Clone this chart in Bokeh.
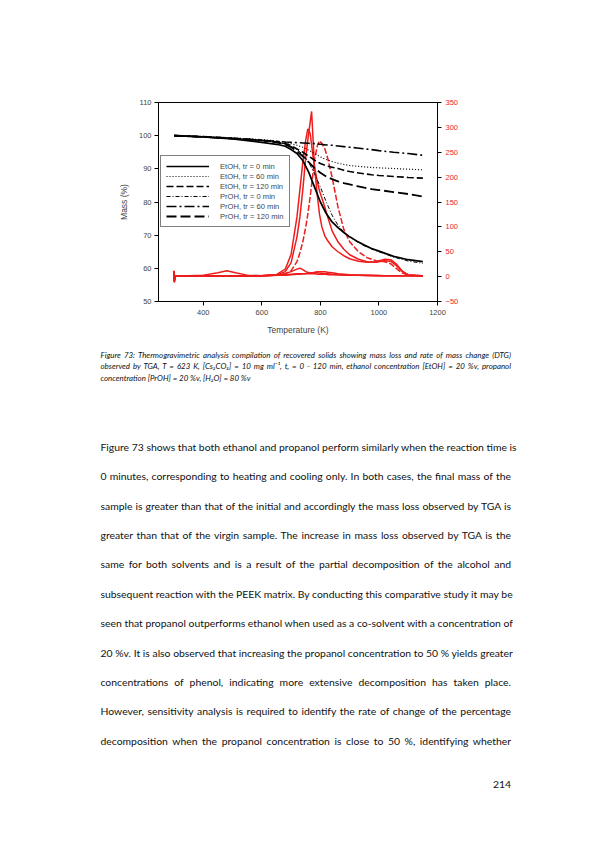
from math import pi
import html
from bokeh.plotting import figure
from bokeh.models import (Range1d, LinearAxis, Legend, LegendItem, Label,
                          FixedTicker, Div)
from bokeh.layouts import column
from bokeh.embed import file_html
from bokeh.resources import INLINE

# ---------------- data ----------------
T_MASS = [300, 400, 500, 600, 650, 680, 700, 720, 740, 760, 780, 800, 820, 840,
          860, 880, 900, 925, 950, 975, 1000, 1050, 1100, 1150]
mass_etoh_0 = [100, 99.6, 99.0, 98.0, 97.4, 96.8, 95.8, 94.6, 92.5, 89.0, 84.5, 80.0,
               76.5, 74.0, 72.3, 70.8, 69.5, 68.2, 67.0, 66.0, 65.2, 63.6, 62.6, 62.0]
mass_etoh_60 = [100, 99.7, 99.3, 98.8, 98.4, 98.0, 97.6, 97.1, 96.5, 95.6, 94.6, 93.6,
                92.8, 92.2, 91.7, 91.3, 91.0, 90.8, 90.6, 90.4, 90.3, 90.1, 89.9, 89.7]
mass_etoh_120 = [100, 99.7, 99.2, 98.6, 98.1, 97.6, 97.0, 96.0, 95.0, 93.8, 92.6, 91.6,
                 90.9, 90.5, 90.1, 89.6, 89.2, 88.8, 88.5, 88.2, 88.0, 87.7, 87.4, 87.2]
mass_proh_0 = [100, 99.7, 99.2, 98.5, 98.0, 97.5, 96.8, 95.8, 94.3, 92.0, 88.5, 84.5,
               80.0, 76.0, 73.0, 71.0, 69.5, 68.0, 66.8, 65.8, 65.0, 63.4, 62.2, 61.5]
mass_proh_60 = [100, 99.6, 99.1, 98.6, 98.3, 98.1, 98.0, 97.9, 97.8, 97.7, 97.6, 97.4,
                97.2, 97.1, 96.9, 96.7, 96.5, 96.3, 96.0, 95.8, 95.5, 95.0, 94.6, 94.1]
mass_proh_120 = [100, 99.7, 99.2, 98.6, 98.0, 97.3, 96.5, 95.3, 93.8, 92.0, 90.2, 88.8,
                 87.7, 86.9, 86.2, 85.7, 85.3, 84.8, 84.3, 83.9, 83.6, 83.0, 82.4, 81.6]

T_DTG = [300, 301, 305, 350, 400, 450, 480, 510, 550, 600, 650, 680, 700, 720, 730,
         740, 750, 757, 765, 770, 775, 780, 790, 797, 805, 815, 825, 840, 860, 880,
         900, 930, 960, 990, 1020, 1040, 1060, 1080, 1100, 1150]
dtg_etoh_0 = [12, -12, 2, 1, 1, 2, 2, 1, 1, 2, 3, 10, 28, 80, 120,
              175, 240, 275, 310, 332, 275, 220, 160, 125, 100, 82, 72, 60, 50, 42,
              36, 31, 29, 30, 35, 34, 25, 11, 3, 2]
dtg_etoh_60 = [8, -6, 1, 1, 1, 1, 2, 1, 1, 2, 3, 3, 4, 5, 5,
               6, 6, 7, 7, 8, 8, 9, 10, 10, 10, 10, 9, 8, 6, 5,
               4, 3, 3, 3, 2, 2, 2, 2, 2, 2]
dtg_etoh_120 = [10, -8, 1, 1, 1, 2, 2, 1, 2, 2, 4, 6, 10, 15, 17,
                14, 10, 9, 8, 8, 8, 8, 8, 7, 7, 6, 6, 5, 4, 4,
                3, 3, 3, 2, 2, 2, 2, 2, 2, 2]
dtg_proh_0 = [8, -8, 1, 1, 1, 1, 1, 1, 1, 2, 3, 6, 12, 30, 48,
              70, 100, 125, 160, 185, 210, 235, 264, 273, 268, 257, 238, 200, 140, 95,
              70, 50, 38, 32, 30, 26, 16, 7, 3, 1]
dtg_proh_60 = [12, -10, 2, 2, 3, 8, 12, 8, 3, 2, 3, 4, 5, 6, 6,
               6, 6, 6, 6, 6, 6, 6, 5, 5, 5, 5, 4, 4, 4, 3,
               3, 3, 2, 2, 2, 2, 2, 2, 2, 2]
dtg_proh_120 = [10, -10, 2, 2, 2, 2, 2, 2, 2, 2, 4, 15, 45, 120, 175,
                230, 275, 297, 288, 265, 240, 220, 190, 172, 158, 140, 120, 92, 70, 55,
                44, 35, 30, 29, 32, 31, 22, 10, 4, 2]

series_labels = ["EtOH, tr = 0 min", "EtOH, tr = 60 min", "EtOH, tr = 120 min",
                 "PrOH, tr = 0 min", "PrOH, tr = 60 min", "PrOH, tr = 120 min"]
mass_series = [mass_etoh_0, mass_etoh_60, mass_etoh_120, mass_proh_0, mass_proh_60, mass_proh_120]
dtg_series = [dtg_etoh_0, dtg_etoh_60, dtg_etoh_120, dtg_proh_0, dtg_proh_60, dtg_proh_120]

x_ticks = [400, 600, 800, 1000, 1200]
mass_ticks = [50, 60, 70, 80, 90, 100, 110]
dtg_ticks = [-50, 0, 50, 100, 150, 200, 250, 300, 350]

# styles
black_dash = ["solid", "1 2", "7 3", "4 2 1 2", "10 3 2 3", "10 4"]
black_width = [1.7, 1.2, 1.6, 1.0, 1.6, 1.8]
red_dash = ["solid", "solid", "solid", "6 2", "solid", "solid"]
RED = "#ee1c1c"
FONT = "Liberation Sans"

# page geometry
FL, FR, FT, FB = 158, 437, 102, 301
PAGE_W, PAGE_H = 595, 842
CHART_H = 345

# ---------------- chart ----------------
p = figure(width=PAGE_W, height=CHART_H, output_backend="svg", toolbar_location=None,
           x_range=Range1d(247, 1200), y_range=Range1d(50, 110),
           min_border_left=FL, min_border_right=PAGE_W - FR, min_border_top=FT,
           min_border_bottom=CHART_H - FB)
p.extra_y_ranges = {"dtg": Range1d(-50, 350)}
p.grid.visible = False
p.outline_line_color = "black"
p.outline_line_width = 1
p.background_fill_color = "white"
p.border_fill_color = "white"

p.xaxis.ticker = FixedTicker(ticks=x_ticks)
p.yaxis.ticker = FixedTicker(ticks=mass_ticks)
p.xaxis.axis_label = "Temperature (K)"
p.yaxis.axis_label = "Mass (%)"
for ax in (p.xaxis[0], p.yaxis[0]):
    ax.major_tick_in = 0
    ax.major_tick_out = 4
    ax.minor_tick_line_color = None
    ax.major_label_text_font = FONT
    ax.major_label_text_font_size = "7.5px"
    ax.axis_label_text_font = FONT
    ax.axis_label_text_font_size = "8.5px"
    ax.axis_label_text_font_style = "normal"
    ax.axis_line_color = "black"
    ax.major_tick_line_color = "black"
p.xaxis.major_label_standoff = 4
p.xaxis.axis_label_standoff = 7
p.yaxis.major_label_standoff = 3
p.yaxis.axis_label_standoff = 7

rax = LinearAxis(y_range_name="dtg", ticker=FixedTicker(ticks=dtg_ticks),
                 major_tick_in=0, major_tick_out=4, minor_tick_line_color=None,
                 major_label_text_font=FONT, major_label_text_font_size="7.5px",
                 major_label_text_color=RED, major_label_standoff=4)
p.add_layout(rax, "right")

p.add_layout(Label(x=312, y=106, x_units="screen", y_units="screen",
                   text="DTG (mg min\u207b\u00b9)", angle=pi / 2,
                   text_align="center", text_baseline="middle",
                   text_font=FONT, text_font_size="8.5px", text_color="black"))

for dtg, dash in zip(dtg_series, red_dash):
    p.line(T_DTG, dtg, y_range_name="dtg", line_color=RED, line_width=1.5,
           line_dash=dash)

items = []
for lab, m, dash, w in zip(series_labels, mass_series, black_dash, black_width):
    r = p.line(T_MASS, m, line_color="black", line_width=w, line_dash=dash)
    items.append(LegendItem(label=lab, renderers=[r]))

leg = Legend(items=items, location=(2, 74), label_text_font=FONT,
             label_text_font_size="7.6px", border_line_color="black",
             border_line_width=1, background_fill_alpha=1.0, padding=5,
             spacing=0, margin=0, glyph_width=43, glyph_height=10,
             label_height=10, label_standoff=11)
p.add_layout(leg, "center")

# ---------------- caption and body text ----------------
body_lines = [
    "Figure 73 shows that both ethanol and propanol perform similarly when the reaction time is",
    "0 minutes, corresponding to heating and cooling only. In both cases, the final mass of the",
    "sample is greater than that of the initial and accordingly the mass loss observed by TGA is",
    "greater than that of the virgin sample. The increase in mass loss observed by TGA is the",
    "same for both solvents and is a result of the partial decomposition of the alcohol and",
    "subsequent reaction with the PEEK matrix. By conducting this comparative study it may be",
    "seen that propanol outperforms ethanol when used as a co-solvent with a concentration of",
    "20 %v. It is also observed that increasing the propanol concentration to 50 % yields greater",
    "concentrations of phenol, indicating more extensive decomposition has taken place.",
    "However, sensitivity analysis is required to identify the rate of change of the percentage",
    "decomposition when the propanol concentration is close to 50 %, identifying whether",
]
caption_lines = [
    "Figure 73: Thermogravimetric analysis compilation of recovered solids showing mass loss and rate of mass change (DTG)",
    "observed by TGA, T = 623 K, [Cs\u2082CO\u2083] = 10 mg ml\u207b\u00b9, t\u1d63 = 0 - 120 min, ethanol concentration [EtOH] = 20 %v, propanol",
    "concentration [PrOH] = 20 %v, [H\u2082O] = 80 %v",
]
page_number = "214"

LEFT, RIGHT = 100.5, 511.0
BODY_SIZE = 10.4
CAP_SIZE = 7.9
ASC = 0.887  # baseline offset within a line box of line-height 1em (Lato)


def line_html(text, baseline, size, style, last_align):
    top = baseline - CHART_H - ASC * size
    return ('<div style="position:absolute;left:%.1fpx;top:%.1fpx;width:%.1fpx;'
            'font-family:Lato,sans-serif;font-size:%.1fpx;font-style:%s;'
            'line-height:%.1fpx;white-space:nowrap;text-align:justify;'
            'text-align-last:%s;color:#111111;margin:0;padding:0">%s</div>'
            % (LEFT, top, RIGHT - LEFT, size, style, size, last_align,
               html.escape(text)))


parts = []
for i, line in enumerate(caption_lines):
    parts.append(line_html(line, 358.6 + 11.45 * i, CAP_SIZE, "italic",
                           "justify" if i < 2 else "left"))
for i, line in enumerate(body_lines):
    parts.append(line_html(line, 451.3 + 29.34 * i, BODY_SIZE, "normal", "justify"))
parts.append(line_html(page_number, 788.5, BODY_SIZE, "normal", "right"))

text_div = Div(text='<div style="position:relative;width:%dpx;height:%dpx;'
                    'background:white;margin:0;padding:0">%s</div>'
                    % (PAGE_W, PAGE_H - CHART_H, "".join(parts)),
               width=PAGE_W, height=PAGE_H - CHART_H, margin=0)

layout = column(p, text_div, spacing=0)
open("out.html", "w").write(file_html(layout, INLINE))
